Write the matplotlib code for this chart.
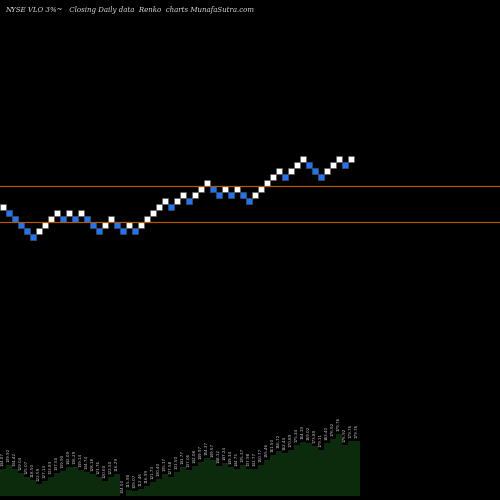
import matplotlib
matplotlib.use('Agg')
import matplotlib.pyplot as plt
from matplotlib.patches import Rectangle

# renko brick levels (brick units) and direction
levels = [6, 5, 4, 3, 2, 1, 2, 3, 4, 5, 4, 5, 4, 5, 4, 3, 2, 3, 4, 3,
          2, 3, 2, 3, 4, 5, 6, 7, 6, 7, 8, 7, 8, 9, 10, 9, 8, 9, 8, 9,
          8, 7, 8, 9, 10, 11, 12, 11, 12, 13, 14, 13, 12, 11, 12, 13, 14, 13, 14]
first_up = True
lines = [9, 3]

# volume-like area heights
volume = [27, 31, 27, 23, 19, 16, 12, 15, 19, 23, 25, 29, 29, 26, 24, 22, 19, 15, 19, 22,
          0, 6, 5, 7, 10, 14, 17, 22, 19, 24, 29, 26, 30, 34, 38, 36, 30, 33, 29, 27,
          31, 27, 27, 31, 36, 41, 45, 43, 46, 51, 54, 53, 50, 46, 53, 57, 62, 51, 55, 55]
prices = ["144.07", "139.92", "134.42", "129.04", "125.07", "118.50", "122.59", "127.13",
          "133.83", "137.50", "139.90", "142.09", "136.29", "139.14", "134.74", "128.18",
          "121.76", "120.60", "122.50", "116.29", "104.50", "115.98", "109.07", "112.46",
          "116.99", "121.73", "130.40", "135.17", "127.58", "131.50", "141.77", "137.06",
          "142.08", "149.97", "154.37", "149.57", "148.12", "147.24", "149.34", "144.75",
          "135.37", "137.98", "143.77", "150.77", "155.46", "161.50", "156.72", "162.44",
          "170.89", "175.34", "164.19", "159.02", "173.80", "179.11", "183.40", "176.92",
          "179.76", "176.92", "179.76", "179.76"]

fig = plt.figure(figsize=(5, 5), dpi=100, facecolor='black')

# volume area
ax2 = fig.add_axes([0, 0, 1, 1])
ax2.set_facecolor('black')
ax2.set_xlim(0, 500 / 6)
ax2.set_ylim(-4, 496)
xs = list(range(len(volume) + 1))
ax2.fill_between(xs, volume + [volume[-1]], step='post', color='#0c2a0c', lw=0)
for i, (v, p) in enumerate(zip(volume, prices)):
    ax2.text(i + 0.5, v + 3, p, rotation=90, fontsize=3, color='#cccccc',
             ha='center', va='bottom')
ax2.axis('off')

# renko bricks
ax = fig.add_axes([0, 0, 1, 1])
ax.patch.set_alpha(0)
ax.set_xlim(0, 500 / 6)
ax.set_ylim(-500 / 6 + 40, 40)
for y in lines:
    ax.axhline(y, color='#b35900', lw=0.9)
prev = None
for i, L in enumerate(levels):
    up = first_up if prev is None else L > prev
    ax.add_patch(Rectangle((i, L - 1), 1, 1, facecolor='white' if up else '#1a75ff',
                           edgecolor='#555555', lw=0.4))
    prev = L
ax.axis('off')

fig.text(0.01, 0.988, "NYSE VLO 3%~   Closing Daily data  Renko  charts MunafaSutra.com",
         fontsize=5, style='italic', family='DejaVu Serif', color='#dddddd', va='top')

fig.savefig('out.png', dpi=100, facecolor='black')
